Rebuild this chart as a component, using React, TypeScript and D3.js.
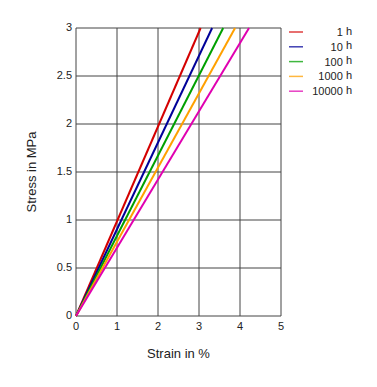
import React from "react";
import * as d3 from "d3";

const seriesNames = ["1", "10", "100", "1000", "10000"];
const seriesUnit = "h";
const seriesColors = ["#d40000", "#000099", "#00a000", "#ffa000", "#e000b0"];
// strain (%) reached at stress 3 MPa for each series; lines start at origin
const strainAt3 = [3.04, 3.32, 3.59, 3.88, 4.22];
const stressEnd = [3, 3, 3, 3, 3];
const xTicks = [0, 1, 2, 3, 4, 5];
const yTicks = [0, 0.5, 1, 1.5, 2, 2.5, 3];

export default function App() {
  const W = 377, H = 387;
  const left = 76, right = 281, top = 28, bottom = 316;
  const x = d3.scaleLinear().domain([0, 5]).range([left, right]);
  const y = d3.scaleLinear().domain([0, 3]).range([bottom, top]);
  const line = d3.line<[number, number]>().x(d => x(d[0])).y(d => y(d[1]));
  const font = "Arial, 'Liberation Sans', sans-serif";
  return (
    <svg width={W} height={H} style={{ position: "absolute", left: 0, top: 0 }} fontFamily={font}>
      <rect width={W} height={H} fill="#fff" />
      {xTicks.map(t => (
        <line key={"gx" + t} x1={x(t)} x2={x(t)} y1={top} y2={bottom} stroke="#444" strokeWidth={1} />
      ))}
      {yTicks.map(t => (
        <line key={"gy" + t} x1={left} x2={right} y1={y(t)} y2={y(t)} stroke="#444" strokeWidth={1} />
      ))}
      {xTicks.map(t => (
        <text key={"tx" + t} x={x(t)} y={bottom + 14} fontSize={11} textAnchor="middle" fill="#222">{t}</text>
      ))}
      {yTicks.map(t => (
        <text key={"ty" + t} x={left - 4} y={y(t) + 3} fontSize={11} textAnchor="end" fill="#222">{t}</text>
      ))}
      {strainAt3.map((s, i) => (
        <path key={"l" + i} d={line([[0, 0], [s, stressEnd[i]]]) || ""} stroke={seriesColors[i]} strokeWidth={2} fill="none" />
      ))}
      <text x={(left + right) / 2} y={358} fontSize={13} textAnchor="middle" fill="#222">Strain in %</text>
      <text transform={`translate(36,${(top + bottom) / 2}) rotate(-90)`} fontSize={13} textAnchor="middle" fill="#222">Stress in MPa</text>
      {seriesNames.map((n, i) => (
        <g key={"lg" + i} transform={`translate(0,${32 + i * 14.8})`}>
          <line x1={289} x2={303} y1={0} y2={0} stroke={seriesColors[i]} strokeWidth={1.5} opacity={0.75} />
          <text x={352} y={4} fontSize={11} textAnchor="end" fill="#222">
            {n + " "}
            <tspan dy={-1.5}>{seriesUnit}</tspan>
          </text>
        </g>
      ))}
    </svg>
  );
}
